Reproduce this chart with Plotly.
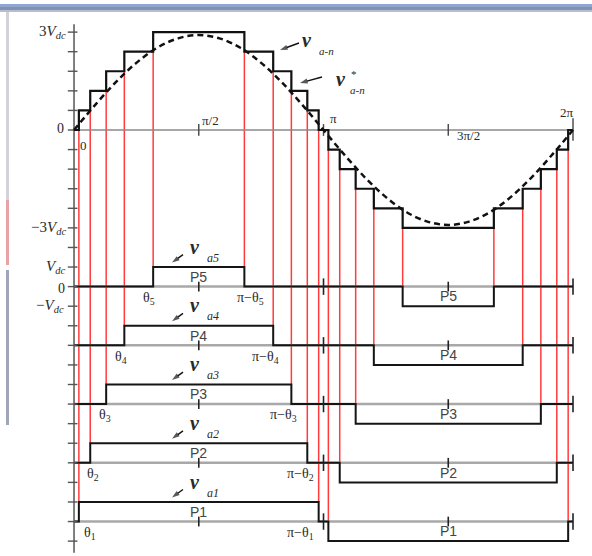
import numpy as np
import plotly.graph_objects as go

# ---------------- data ----------------
theta_deg = [3.5, 11.7, 23.2, 36.3, 57.1]          # switching angles θ1..θ5 (degrees)
row_names = ["P1", "P2", "P3", "P4", "P5"]
row_base = [-20, -17, -14, -11, -8]                # baseline level of each cell row
pulse_amp = 1                                       # one Vdc per cell
sine_deg = list(range(0, 361, 15))
sine_val = [0, 1.26, 2.43, 3.43, 4.20, 4.68, 4.85, 4.68, 4.20, 3.43, 2.43, 1.26, 0,
            -1.26, -2.43, -3.43, -4.20, -4.68, -4.85, -4.68, -4.20, -3.43, -2.43, -1.26, 0]
x_tick_deg = [90, 180, 270, 360]
x_tick_labels = ["π/2", "π", "3π/2", "2π"]
y_axis_top, y_axis_bottom = 5.4, -21.6

# ---------------- geometry helpers ----------------
W, H = 592, 556
X0, X1 = -53.4, 373.7
Y0, Y1 = -21.76, 6.64
def px_x(p): return X0 + p * (X1 - X0) / W
def px_y(p): return Y1 - p * (Y1 - Y0) / H
UY = H / (Y1 - Y0)   # pixels per level
UX = W / (X1 - X0)   # pixels per degree

SERIF = "Liberation Serif"
SANS = "Liberation Sans"
TXT = "#2a2a2a"

def pulse(x, t):
    if t <= x < 180 - t:
        return pulse_amp
    if 180 + t <= x < 360 - t:
        return -pulse_amp
    return 0

edges = sorted(set([0, 360] + theta_deg + [180 - t for t in theta_deg] +
                   [180 + t for t in theta_deg] + [360 - t for t in theta_deg]))
stair_y = [sum(pulse(x, t) for t in theta_deg) for x in edges]

fig = go.Figure()

def segs(pairs, color, width, dash=None):
    xs, ys = [], []
    for (xa, ya, xb, yb) in pairs:
        xs += [xa, xb, None]
        ys += [ya, yb, None]
    fig.add_trace(go.Scatter(x=xs, y=ys, mode="lines", hoverinfo="skip",
                             line=dict(color=color, width=width, dash=dash)))

# red projection lines
red = []
for k, t in enumerate(theta_deg):
    b = row_base[k]
    red.append((t, k, t, b + pulse_amp))
    red.append((180 - t, k, 180 - t, b + pulse_amp))
    red.append((180 + t, -(k + 1), 180 + t, b))
    red.append((360 - t, -(k + 1), 360 - t, b))
segs(red, "#ff3b3b", 1.5)

# row baselines (gray)
segs([(0, b, 360, b) for b in row_base], "#a8a8a8", 2.5)
# main zero line
segs([(-1, 0, 360, 0)], "#8a8a8a", 1.5)

# pulse waveforms
for k, t in enumerate(theta_deg):
    b = row_base[k]
    xs = [0, t, t, 180 - t, 180 - t, 180 + t, 180 + t, 360 - t, 360 - t, 360]
    ys = [b, b, b + pulse_amp, b + pulse_amp, b, b, b - pulse_amp, b - pulse_amp, b, b]
    fig.add_trace(go.Scatter(x=xs, y=ys, mode="lines", hoverinfo="skip",
                             line=dict(color="#151515", width=2)))

# ticks on rows
row_ticks = []
for b in row_base:
    for xt in x_tick_deg:
        h = 0.42 if xt in (180, 360) else 0.25
        row_ticks.append((xt, b - h, xt, b + h))
segs(row_ticks, "#222222", 1.6)
# ticks on main axis
segs([(xt, -0.3 if xt != 360 else -0.55, xt, 0.3 if xt != 360 else 0.6) for xt in x_tick_deg],
     "#444444", 1.4)

# left axis and its ticks
segs([(0, y_axis_top, 0, y_axis_bottom)], "#555555", 1.5)
segs([(-4.5, yv, 2.5, yv) for yv in range(int(np.floor(y_axis_top)), int(np.ceil(y_axis_bottom)) - 1, -1)],
     "#555555", 1.4)

# staircase output voltage
fig.add_trace(go.Scatter(x=edges, y=stair_y, mode="lines", line_shape="hv", hoverinfo="skip",
                         line=dict(color="#111111", width=2.2)))
# reference sinusoid (dashed)
fig.add_trace(go.Scatter(x=sine_deg, y=sine_val, mode="lines", line_shape="spline", hoverinfo="skip",
                         line=dict(color="#111111", width=2.5, dash="6px,4px")))

# small pointer arrows (line + arrow marker)
def arrow(tip_px, tail_px):
    (tx, ty), (sx, sy) = tip_px, tail_px
    fig.add_trace(go.Scatter(
        x=[px_x(sx), px_x(tx)], y=[px_y(sy), px_y(ty)], mode="lines+markers", hoverinfo="skip",
        line=dict(color="#111111", width=1.4),
        marker=dict(symbol=["circle", "arrow"], size=[0.1, 8], color="#111111",
                    angleref="previous", line=dict(width=0))))

ann = []
def txt(x, y, text, size=14, xanchor="center", family=SERIF, color=TXT, yanchor="middle", xshift=0):
    ann.append(dict(x=x, y=y, text=text, showarrow=False, xanchor=xanchor, yanchor=yanchor,
                    xshift=xshift, font=dict(family=family, size=size, color=color)))

# left axis labels
txt(px_x(68), 5, "3<i>V</i><sub><i>dc</i></sub>", 15, "right")
txt(px_x(66), 0.1, "0", 14, "right")
txt(px_x(83), px_y(145), "0", 13)
txt(px_x(68), -5, "−3<i>V</i><sub><i>dc</i></sub>", 15, "right")
txt(px_x(67), -7, "<i>V</i><sub><i>dc</i></sub>", 15, "right")
txt(px_x(67), -8.1, "0", 14, "right")
txt(px_x(66), -9.0, "−<i>V</i><sub><i>dc</i></sub>", 15, "right")

# x tick labels on main axis
txt(px_x(210), px_y(120), x_tick_labels[0], 13)
txt(px_x(333), px_y(118), x_tick_labels[1], 13)
txt(px_x(468), px_y(135), x_tick_labels[2], 13)
txt(px_x(567), px_y(112), x_tick_labels[3], 13)

# v_a-n and v*_a-n labels
txt(px_x(307), px_y(40), "<b><i>v</i></b>", 20)
txt(px_x(326), px_y(51), "<i>a-n</i>", 11)
arrow((280, 50), (299, 43))
txt(px_x(341), px_y(79), "<b><i>v</i></b>", 20)
txt(px_x(354), px_y(74), "*", 11)
txt(px_x(357), px_y(90), "<i>a-n</i>", 11)
arrow((300, 83), (322, 77))

# per-row labels
theta_shift = [11, 3, -1, -3, -4]
pi_theta_shift = [-18, -7, -8, -8, 6]
for k, t in enumerate(theta_deg):
    b = row_base[k]
    n = k + 1
    bpx = (Y1 - b) * UY
    txt(90, b + 0.5, row_names[k], 14, family=SANS, color="#444444")
    txt(270, b - 0.5, row_names[k], 14, family=SANS, color="#444444")
    txt(t, b - 0.6, f"θ<sub>{n}</sub>", 14, xshift=theta_shift[k])
    txt(180 - t, b - 0.6, f"π−θ<sub>{n}</sub>", 14, xshift=pi_theta_shift[k])
    txt(px_x(195), b + 40 / UY, "<b><i>v</i></b>", 20)
    txt(px_x(213), b + 29 / UY, f"<i>a{n}</i>", 12)
    arrow((172, bpx - 24), (183, bpx - 32))

# window chrome: header bar and left strip
shapes = [
    dict(type="rect", xref="paper", yref="paper", x0=0, x1=1, y0=1 - 7 / H, y1=1 - 4 / H,
         fillcolor="#8fa6d2", line_width=0, layer="above"),
    dict(type="rect", xref="paper", yref="paper", x0=0, x1=1, y0=1 - 10 / H, y1=1 - 7 / H,
         fillcolor="#7f92b6", line_width=0, layer="above"),
    dict(type="rect", xref="paper", yref="paper", x0=0, x1=1, y0=1 - 12 / H, y1=1 - 10 / H,
         fillcolor="#b8bfcb", line_width=0, layer="above"),
    dict(type="rect", xref="paper", yref="paper", x0=6 / W, x1=9 / W, y0=1 - 200 / H, y1=1 - 12 / H,
         fillcolor="#d2d3d8", line_width=0),
    dict(type="rect", xref="paper", yref="paper", x0=6 / W, x1=9 / W, y0=1 - 265 / H, y1=1 - 200 / H,
         fillcolor="#e7a3a6", line_width=0),
    dict(type="rect", xref="paper", yref="paper", x0=6 / W, x1=9 / W, y0=1 - 425 / H, y1=1 - 270 / H,
         fillcolor="#a2a4b8", line_width=0),
]

fig.update_layout(
    width=W, height=H, margin=dict(l=0, r=0, t=0, b=0),
    paper_bgcolor="white", plot_bgcolor="white", showlegend=False,
    xaxis=dict(range=[X0, X1], visible=False, fixedrange=True),
    yaxis=dict(range=[Y0, Y1], visible=False, fixedrange=True),
    annotations=ann, shapes=shapes,
)
fig.write_html("out.html", config={"displayModeBar": False},
               post_script="document.body.style.margin='0';document.body.style.overflow='hidden';")
